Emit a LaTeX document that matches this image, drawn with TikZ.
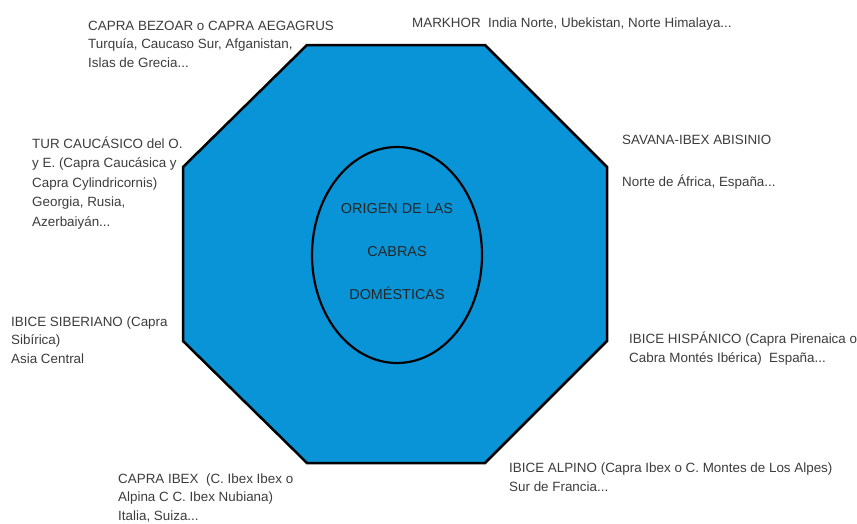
\documentclass[tikz,border=0pt]{standalone}
\usepackage{fontspec}
\setmainfont{Liberation Sans}
\usetikzlibrary{shapes.geometric}
\definecolor{octblue}{RGB}{8,148,214}
\definecolor{txtgray}{RGB}{60,60,60}

\begin{document}
\begin{tikzpicture}[
    x=1pt, y=-1pt,
    species/.style={%
      anchor=base west,
      align=left,
      inner sep=0pt,
      text=txtgray,
      font=\fontsize{13.4}{18.5}\selectfont,
    },
    origin/.style={%
      draw,
      ellipse,
      line width=2.2pt,
      minimum width=170pt,
      minimum height=216pt,
      text depth=8pt,
      align=center,
      text=black!85,
      font=\fontsize{14.4}{43}\selectfont,
    },
  ]
    \useasboundingbox (0,0) rectangle (857,523);

    % octagon corners
    \coordinate (TL) at (307,45);
    \coordinate (TR) at (485,45);
    \coordinate (RU) at (607,167);
    \coordinate (RL) at (607,341);
    \coordinate (BR) at (485,463);
    \coordinate (BL) at (307,463);
    \coordinate (LL) at (183,341);
    \coordinate (LU) at (183,167);
    \filldraw [fill=octblue, line width=2.5pt] (TL) -- (TR) -- (RU) -- (RL) -- (BR) -- (BL) -- (LL) -- (LU) -- cycle;

    \node [origin] (origen) at (397,255) {ORIGEN DE LAS\\CABRAS\\DOMÉSTICAS};

    % species, placed at the baseline of their last line
    \node [species] (bezoar) at (88,67) {CAPRA BEZOAR o CAPRA AEGAGRUS\\Turquía, Caucaso Sur, Afganistan,\\Islas de Grecia...};
    \node [species] (markhor) at (412,27) {MARKHOR\ \ India Norte, Ubekistan, Norte Himalaya...};
    \node [species, font=\fontsize{13.4}{19.5}\selectfont] (tur) at (32,226) {TUR CAUCÁSICO del O.\\y E. (Capra Caucásica y\\Capra Cylindricornis)\\Georgia, Rusia,\\Azerbaiyán...};
    \node [species] (savana) at (622,186) {SAVANA-IBEX ABISINIO\\[23.5pt]Norte de África, España...};
    \node [species] (siberiano) at (11,363) {IBICE SIBERIANO (Capra\\Sibírica)\\Asia Central};
    \node [species] (hispanico) at (629,362) {IBICE HISPÁNICO (Capra Pirenaica o\\Cabra Montés Ibérica)\ \ España...};
    \node [species] (capraibex) at (118,520) {CAPRA IBEX\ \ (C. Ibex Ibex o\\Alpina C C. Ibex Nubiana)\\Italia, Suiza...};
    \node [species] (alpino) at (509,491) {IBICE ALPINO (Capra Ibex o C. Montes de Los Alpes)\\Sur de Francia...};
\end{tikzpicture}
\end{document}
